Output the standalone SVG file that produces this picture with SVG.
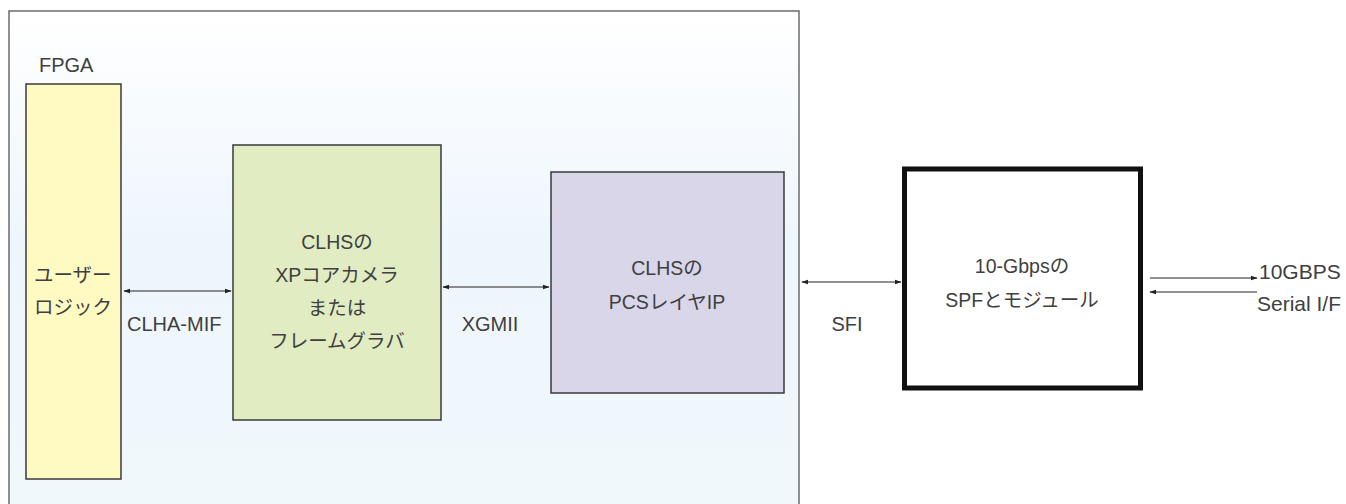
<svg xmlns="http://www.w3.org/2000/svg" width="1346" height="504" viewBox="0 0 1346 504">
  <defs>
    <linearGradient id="fpgaFill" x1="0" y1="0" x2="0" y2="1">
      <stop offset="0" stop-color="#ffffff"/>
      <stop offset="0.45" stop-color="#eef6fd"/>
      <stop offset="1" stop-color="#f0f8fc"/>
    </linearGradient>
    <marker id="arrow" viewBox="0 0 10 10" refX="9" refY="5" markerWidth="7" markerHeight="7" orient="auto-start-reverse" markerUnits="userSpaceOnUse">
      <path d="M0,1.5 L10,5 L0,8.5 Z" fill="#222"/>
    </marker>
  </defs>
  <style>
    .lbl { font-family: "Liberation Sans", "Noto Sans CJK JP", sans-serif; font-size: 19.5px; fill: #404040; }
    .lat { font-size: 20px; }
    .big { font-size: 21px; }
    .mid { text-anchor: middle; }
    .blk { stroke: #3a3a3a; stroke-width: 1.5; }
    .wire { stroke: #222; stroke-width: 1.2; fill: none; }
  </style>

  <rect width="1346" height="504" fill="#ffffff"/>

  <g id="fpga">
    <rect x="9" y="11" width="790" height="510" fill="url(#fpgaFill)" stroke="#555" stroke-width="1.3"/>
    <text class="lbl lat" x="39" y="72">FPGA</text>
  </g>

  <g id="user-logic">
    <rect class="blk" x="26" y="84" width="95" height="395" fill="#fff9c2"/>
    <text class="lbl" x="34" y="282">ユーザー</text>
    <text class="lbl" x="34" y="314">ロジック</text>
  </g>

  <g id="xp-core">
    <rect class="blk" x="233" y="145" width="208" height="275" fill="#e1ecc3"/>
    <text class="lbl mid" x="337" y="249">CLHSの</text>
    <text class="lbl mid" x="337" y="282">XPコアカメラ</text>
    <text class="lbl mid" x="337" y="315">または</text>
    <text class="lbl mid" x="337" y="348">フレームグラバ</text>
  </g>

  <g id="pcs-layer">
    <rect class="blk" x="551" y="172" width="233" height="221" fill="#d9d6ea"/>
    <text class="lbl mid" x="667" y="275">CLHSの</text>
    <text class="lbl mid" x="667" y="309">PCSレイヤIP</text>
  </g>

  <g id="sfp-module">
    <rect x="904.5" y="169" width="236" height="219" fill="#ffffff" stroke="#111" stroke-width="5"/>
    <text class="lbl mid" x="1022" y="273">10-Gbpsの</text>
    <text class="lbl mid" x="1022" y="307">SPFとモジュール</text>
  </g>

  <g id="connectors">
    <line class="wire" x1="124" y1="291" x2="231" y2="291" marker-start="url(#arrow)" marker-end="url(#arrow)"/>
    <line class="wire" x1="443" y1="287" x2="549" y2="287" marker-start="url(#arrow)" marker-end="url(#arrow)"/>
    <line class="wire" x1="802" y1="282" x2="901" y2="282" marker-start="url(#arrow)" marker-end="url(#arrow)"/>
    <line class="wire" x1="1150" y1="278" x2="1257" y2="278" marker-end="url(#arrow)"/>
    <line class="wire" x1="1257" y1="292" x2="1150" y2="292" marker-end="url(#arrow)"/>
  </g>

  <g id="labels">
    <text class="lbl lat" x="127" y="331">CLHA-MIF</text>
    <text class="lbl lat mid" x="490" y="331">XGMII</text>
    <text class="lbl lat mid" x="847" y="331">SFI</text>
    <text class="lbl big" x="1259" y="279">10GBPS</text>
    <text class="lbl big" x="1257" y="311">Serial I/F</text>
  </g>
</svg>
